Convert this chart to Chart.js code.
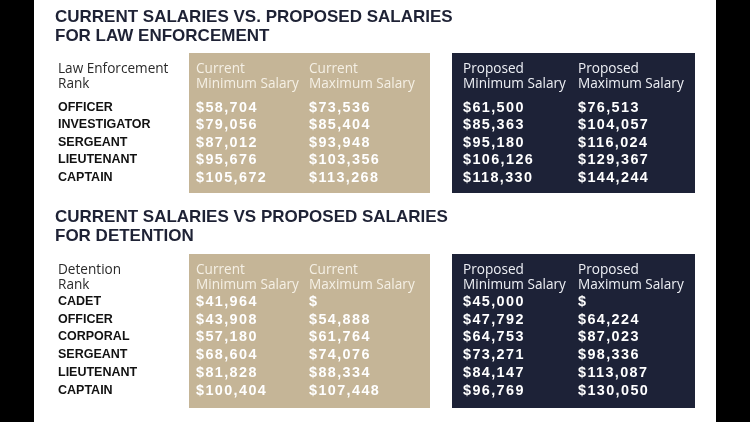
<!DOCTYPE html>
<html>
<head>
<meta charset="utf-8">
<script src="https://cdn.jsdelivr.net/npm/chart.js@4/dist/chart.umd.min.js"></script>
<style>
  html, body { margin: 0; padding: 0; background: #000; }
  #wrap { position: relative; width: 750px; height: 422px; background: #000; overflow: hidden; }
  #panel { position: absolute; left: 34px; top: 0; width: 682px; height: 422px; background: #fff; }
  canvas { position: absolute; left: 0; }
</style>
</head>
<body>
<div id="wrap">
  <div id="panel"></div>
  <canvas id="law" width="750" height="200" style="top:0;width:750px;height:200px"></canvas>
  <canvas id="det" width="750" height="222" style="top:200px;width:750px;height:222px"></canvas>
</div>
<script>
// ---------- DATA ----------
const lawTitle = ['CURRENT SALARIES VS. PROPOSED SALARIES', 'FOR LAW ENFORCEMENT'];
const detTitle = ['CURRENT SALARIES VS PROPOSED SALARIES', 'FOR DETENTION'];
const lawRankHeader = ['Law Enforcement', 'Rank'];
const detRankHeader = ['Detention', 'Rank'];
const columnHeaders = [
  ['Current', 'Minimum Salary'],
  ['Current', 'Maximum Salary'],
  ['Proposed', 'Minimum Salary'],
  ['Proposed', 'Maximum Salary']
];
const lawRanks = ['OFFICER', 'INVESTIGATOR', 'SERGEANT', 'LIEUTENANT', 'CAPTAIN'];
const lawCurrentMin  = [58704, 79056, 87012, 95676, 105672];
const lawCurrentMax  = [73536, 85404, 93948, 103356, 113268];
const lawProposedMin = [61500, 85363, 95180, 106126, 118330];
const lawProposedMax = [76513, 104057, 116024, 129367, 144244];

const detRanks = ['CADET', 'OFFICER', 'CORPORAL', 'SERGEANT', 'LIEUTENANT', 'CAPTAIN'];
const detCurrentMin  = [41964, 43908, 57180, 68604, 81828, 100404];
const detCurrentMax  = [null, 54888, 61764, 74076, 88334, 107448];
const detProposedMin = [45000, 47792, 64753, 73271, 84147, 96769];
const detProposedMax = [null, 64224, 87023, 98336, 113087, 130050];

// ---------- LAYOUT / STYLE ----------
const TAN = '#c5b597';
const NAVY = '#1d2237';
const colStart = [6, 119, 273, 388];          // x-scale units (text left edge of each value column)
const colHeaderColor = ['#f5f0e5', '#f5f0e5', '#eef0f5', '#eef0f5'];
const boxSpans = [{ from: -1, to: 240, color: TAN }, { from: 262, to: 505, color: NAVY }];

function fmt(v) {
  return v == null ? '$' : '$' + v.toLocaleString('en-US');
}

const tablePlugin = {
  id: 'table',
  afterLayout(chart) {
    // nudge the rank labels slightly right of the title's left edge
    chart.scales.y.left += 3;
  },
  afterDraw(chart, args, opts) {
    const ctx = chart.ctx;
    const ca = chart.chartArea;
    const xs = chart.scales.x, ys = chart.scales.y;
    const top = ca.top - opts.boxAbove;
    const bottom = ca.bottom + opts.boxBelow;
    ctx.save();
    // boxes
    boxSpans.forEach(b => {
      const x0 = xs.getPixelForValue(b.from), x1 = xs.getPixelForValue(b.to);
      ctx.fillStyle = b.color;
      ctx.fillRect(x0, top, x1 - x0, bottom - top);
    });
    // headers
    ctx.textAlign = 'left';
    ctx.textBaseline = 'alphabetic';
    ctx.font = '13.6px "Open Sans"';
    ctx.fillStyle = '#2a2a2a';
    opts.rankHeader.forEach((t, i) => ctx.fillText(t, ys.left, top + 20 + i * 14.5));
    columnHeaders.forEach((lines, c) => {
      ctx.fillStyle = colHeaderColor[c];
      lines.forEach((t, i) => ctx.fillText(t, xs.getPixelForValue(colStart[c]), top + 20 + i * 14.5));
    });
    // values
    ctx.font = 'bold 14.4px "Liberation Sans"';
    ctx.letterSpacing = '1.4px';
    ctx.textBaseline = 'middle';
    ctx.fillStyle = '#ffffff';
    opts.columns.forEach((vals, c) => {
      vals.forEach((v, r) => {
        ctx.fillText(fmt(v), xs.getPixelForValue(colStart[c]), ys.getPixelForValue(r) + 0.5);
      });
    });
    ctx.letterSpacing = '0px';
    ctx.restore();
  }
};

function makeSection(id, s) {
  return new Chart(document.getElementById(id), {
    type: 'bar',
    data: { labels: s.ranks, datasets: [] },
    options: {
      indexAxis: 'y',
      responsive: false,
      animation: false,
      devicePixelRatio: 1,
      events: [],
      layout: { padding: { left: 55, right: 34, top: 0, bottom: s.padBottom } },
      plugins: {
        legend: { display: false },
        tooltip: { enabled: false },
        title: {
          display: true,
          text: s.title,
          align: 'start',
          color: '#1e2235',
          font: { family: 'Liberation Sans', size: 17, weight: 'bold', lineHeight: 19 / 17 },
          padding: { top: s.titleTop, bottom: s.titleBottom }
        },
        table: { columns: s.columns, rankHeader: s.rankHeader, boxAbove: s.boxAbove, boxBelow: s.boxBelow }
      },
      scales: {
        y: {
          type: 'category',
          position: 'left',
          offset: true,
          grid: { display: false },
          border: { display: false },
          ticks: {
            autoSkip: false,
            crossAlign: 'far',
            color: '#111111',
            padding: 0,
            font: { family: 'Liberation Sans', size: 12.5, weight: 'bold' }
          },
          afterFit: sc => { sc.width = 135; }
        },
        x: { type: 'linear', display: false, min: 0, max: 526 }
      }
    },
    plugins: [tablePlugin]
  });
}

makeSection('law', {
  title: lawTitle, ranks: lawRanks, rankHeader: lawRankHeader,
  columns: [lawCurrentMin, lawCurrentMax, lawProposedMin, lawProposedMax],
  titleTop: 8, titleBottom: 52.4, padBottom: 13.7, boxAbove: 45.4, boxBelow: 6.7
});
makeSection('det', {
  title: detTitle, ranks: detRanks, rankHeader: detRankHeader,
  columns: [detCurrentMin, detCurrentMax, detProposedMin, detProposedMax],
  titleTop: 7.5, titleBottom: 47.1, padBottom: 22.9, boxAbove: 38.6, boxBelow: 8.9
});
</script>
</body>
</html>
